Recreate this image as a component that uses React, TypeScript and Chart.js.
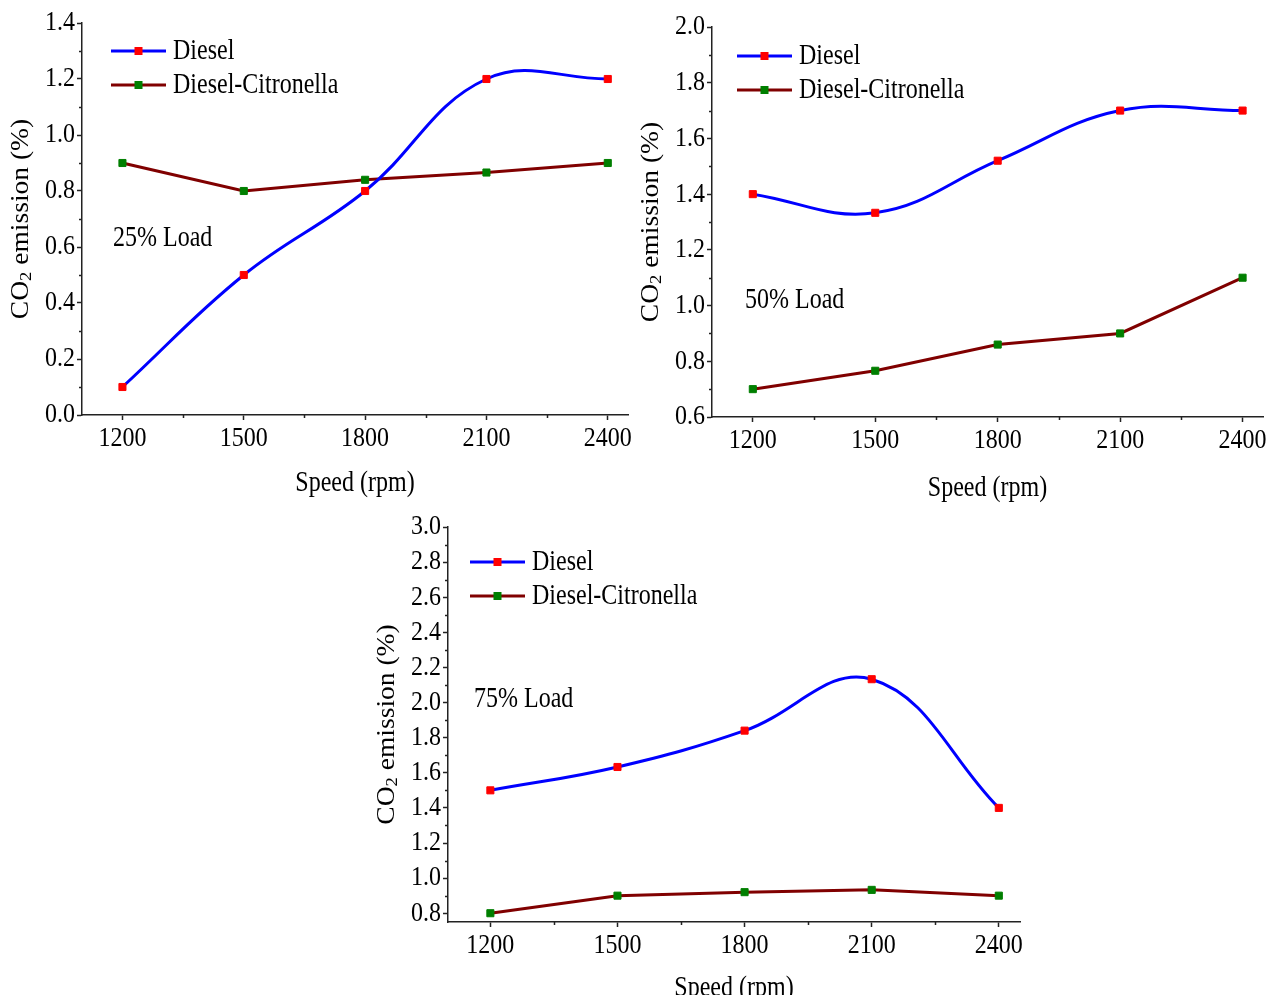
import React, { useEffect, useRef } from 'react';
import { Chart, registerables } from 'chart.js';

Chart.register(...registerables);

// ---- data ----
const speeds = [1200, 1500, 1800, 2100, 2400];
const xTickLabels = ['1200', '1500', '1800', '2100', '2400'];
const xMinorTicks = [1350, 1650, 1950, 2250];
const seriesNames = ['Diesel', 'Diesel-Citronella'];
const loadLabels = ['25% Load', '50% Load', '75% Load'];

const diesel25 = [0.1, 0.5, 0.8, 1.2, 1.2];
const citro25 = [0.9, 0.8, 0.84, 0.866, 0.9];
const diesel50 = [1.4, 1.333, 1.52, 1.7, 1.7];
const citro50 = [0.7, 0.766, 0.86, 0.9, 1.1];
const diesel75 = [1.5, 1.633, 1.84, 2.133, 1.4];
const citro75 = [0.8, 0.9, 0.92, 0.933, 0.9];

const yTicks25 = [0.0, 0.2, 0.4, 0.6, 0.8, 1.0, 1.2, 1.4];
const yTicks50 = [0.6, 0.8, 1.0, 1.2, 1.4, 1.6, 1.8, 2.0];
const yTicks75 = [0.8, 1.0, 1.2, 1.4, 1.6, 1.8, 2.0, 2.2, 2.4, 2.6, 2.8, 3.0];

const xTitle = 'Speed (rpm)';

// ---- styles / layout ----
const FONT = '"Liberation Serif", "Times New Roman", serif';
const AXIS = '#222222';
const TEXT_SY = 1.27; // vertical stretch of the original figure's text
const TICK_SY = 1.17;
const seriesStyles = [
  { line: '#0000FF', marker: '#FF0000', tension: 0.4 },
  { line: '#800000', marker: '#007F00', tension: 0 },
];

type PanelCfg = {
  canvas: { left: number; top: number; w: number; h: number };
  area: { l: number; t: number; r: number; b: number };
  ymin: number;
  ymax: number;
  yTicks: number[];
  series: number[][];
  label: string;
  labelAt: { x: number; y: number };
  legendAt: { x: number; y: number };
  xTitleDy: number;
};

const panels: PanelCfg[] = [
  {
    canvas: { left: 0, top: 0, w: 665, h: 505 },
    area: { l: 82, t: 23, r: 628, b: 415 },
    ymin: 0, ymax: 1.4, yTicks: yTicks25,
    series: [diesel25, citro25],
    label: loadLabels[0], labelAt: { x: 31, y: 215 }, legendAt: { x: 29, y: 28 }, xTitleDy: 68,
  },
  {
    canvas: { left: 632, top: 0, w: 645, h: 505 },
    area: { l: 712, t: 27, r: 1263, b: 417 },
    ymin: 0.6, ymax: 2.0, yTicks: yTicks50,
    series: [diesel50, citro50],
    label: loadLabels[1], labelAt: { x: 33, y: 273 }, legendAt: { x: 25, y: 29 }, xTitleDy: 71,
  },
  {
    canvas: { left: 360, top: 505, w: 680, h: 490 },
    area: { l: 448, t: 527, r: 1020, b: 922 },
    ymin: 0.75, ymax: 3.0, yTicks: yTicks75,
    series: [diesel75, citro75],
    label: loadLabels[2], labelAt: { x: 26, y: 172 }, legendAt: { x: 22, y: 35 }, xTitleDy: 66,
  },
];

function drawText(
  ctx: CanvasRenderingContext2D,
  s: string,
  x: number,
  y: number,
  size: number,
  sy: number,
  align: CanvasTextAlign,
) {
  ctx.save();
  ctx.translate(x, y);
  ctx.scale(1, sy);
  ctx.font = `${size}px ${FONT}`;
  ctx.textAlign = align;
  ctx.textBaseline = 'middle';
  ctx.fillStyle = '#000';
  ctx.fillText(s, 0, 0);
  ctx.restore();
}

function makeOverlay(cfg: PanelCfg) {
  return {
    id: 'overlay',
    afterDatasetsDraw(chart: any) {
      const ctx = chart.ctx as CanvasRenderingContext2D;
      const a = chart.chartArea;
      const xs = chart.scales.x;
      const ys = chart.scales.y;
      ctx.save();
      // minor ticks
      ctx.strokeStyle = AXIS;
      ctx.lineWidth = 1.5;
      ctx.beginPath();
      for (const v of xMinorTicks) {
        const px = Math.round(xs.getPixelForValue(v)) + 0.5;
        ctx.moveTo(px, a.bottom);
        ctx.lineTo(px, a.bottom + 3);
      }
      for (let i = 0; i < cfg.yTicks.length - 1; i++) {
        const v = (cfg.yTicks[i] + cfg.yTicks[i + 1]) / 2;
        const py = Math.round(ys.getPixelForValue(v)) + 0.5;
        ctx.moveTo(a.left - 3, py);
        ctx.lineTo(a.left, py);
      }
      ctx.stroke();

      // tick labels
      speeds.forEach((v, i) => {
        drawText(ctx, xTickLabels[i], xs.getPixelForValue(v), a.bottom + 24, 24, TICK_SY, 'center');
      });
      cfg.yTicks.forEach((v) => {
        drawText(ctx, v.toFixed(1), a.left - 7, ys.getPixelForValue(v), 24, TICK_SY, 'right');
      });

      // legend
      seriesNames.forEach((name, i) => {
        const st = seriesStyles[i];
        const y = a.top + cfg.legendAt.y + i * 34;
        const x0 = a.left + cfg.legendAt.x;
        ctx.strokeStyle = st.line;
        ctx.lineWidth = 3;
        ctx.beginPath();
        ctx.moveTo(x0, y);
        ctx.lineTo(x0 + 55, y);
        ctx.stroke();
        ctx.fillStyle = st.marker;
        ctx.fillRect(x0 + 27.5 - 4, y - 4, 8, 8);
        drawText(ctx, name, x0 + 62, y, 24, TEXT_SY, 'left');
      });

      // load label
      drawText(ctx, cfg.label, a.left + cfg.labelAt.x, a.top + cfg.labelAt.y, 24, TEXT_SY, 'left');

      // x title
      drawText(ctx, xTitle, (a.left + a.right) / 2, a.bottom + cfg.xTitleDy, 24, TEXT_SY, 'center');

      // y title with subscript
      ctx.save();
      ctx.translate(a.left - 61, (a.top + a.bottom) / 2);
      ctx.scale(1, 1.1);
      ctx.rotate(-Math.PI / 2);
      ctx.textAlign = 'left';
      ctx.textBaseline = 'middle';
      ctx.fillStyle = '#000';
      const big = `25px ${FONT}`;
      const small = `17px ${FONT}`;
      ctx.font = big;
      const w1 = ctx.measureText('CO').width;
      const w3 = ctx.measureText(' emission (%)').width;
      ctx.font = small;
      const w2 = ctx.measureText('2').width;
      let x = -(w1 + w2 + w3) / 2;
      ctx.font = big;
      ctx.fillText('CO', x, 0);
      x += w1;
      ctx.font = small;
      ctx.fillText('2', x, 6);
      x += w2;
      ctx.font = big;
      ctx.fillText(' emission (%)', x, 0);
      ctx.restore();

      ctx.restore();
    },
  };
}

function Panel({ cfg }: { cfg: PanelCfg }) {
  const ref = useRef<HTMLCanvasElement>(null);
  useEffect(() => {
    const c = cfg.canvas;
    const ar = cfg.area;
    const chart = new Chart(ref.current as HTMLCanvasElement, {
      type: 'line',
      data: {
        datasets: cfg.series.map((vals, i) => ({
          label: seriesNames[i],
          data: speeds.map((s, j) => ({ x: s, y: vals[j] })),
          borderColor: seriesStyles[i].line,
          borderWidth: 3,
          tension: seriesStyles[i].tension,
          pointStyle: 'rect',
          pointRadius: 5,
          pointBorderWidth: 1,
          pointBackgroundColor: seriesStyles[i].marker,
          pointBorderColor: seriesStyles[i].marker,
          fill: false,
          clip: false,
        })),
      },
      options: {
        animation: false,
        responsive: false,
        events: [],
        layout: {
          padding: { left: 0, bottom: 0, top: ar.t - c.top, right: c.left + c.w - ar.r },
        },
        plugins: { legend: { display: false }, tooltip: { enabled: false }, title: { display: false } },
        scales: {
          x: {
            type: 'linear',
            min: 1100,
            max: 2450,
            afterBuildTicks: (s: any) => {
              s.ticks = speeds.map((v) => ({ value: v }));
            },
            afterFit: (s: any) => {
              s.height = c.top + c.h - ar.b;
            },
            ticks: { display: false },
            grid: { drawOnChartArea: false, drawTicks: true, tickLength: 5, tickColor: AXIS, tickWidth: 1.5 },
            border: { display: true, color: AXIS, width: 1.5 },
          },
          y: {
            type: 'linear',
            min: cfg.ymin,
            max: cfg.ymax,
            afterBuildTicks: (s: any) => {
              s.ticks = cfg.yTicks.map((v) => ({ value: v }));
            },
            afterFit: (s: any) => {
              s.width = ar.l - c.left;
            },
            ticks: { display: false },
            grid: { drawOnChartArea: false, drawTicks: true, tickLength: 5, tickColor: AXIS, tickWidth: 1.5 },
            border: { display: true, color: AXIS, width: 1.5 },
          },
        },
      },
      plugins: [makeOverlay(cfg)],
    } as any);
    return () => chart.destroy();
  }, [cfg]);
  const c = cfg.canvas;
  return (
    <canvas
      ref={ref}
      width={c.w}
      height={c.h}
      style={{ position: 'absolute', left: c.left, top: c.top, width: c.w, height: c.h, display: 'block' }}
    />
  );
}

export default function App() {
  return (
    <div style={{ position: 'absolute', left: 0, top: 0, width: 1277, height: 995, overflow: 'hidden', background: '#fff' }}>
      {panels.map((p, i) => (
        <Panel key={i} cfg={p} />
      ))}
    </div>
  );
}
